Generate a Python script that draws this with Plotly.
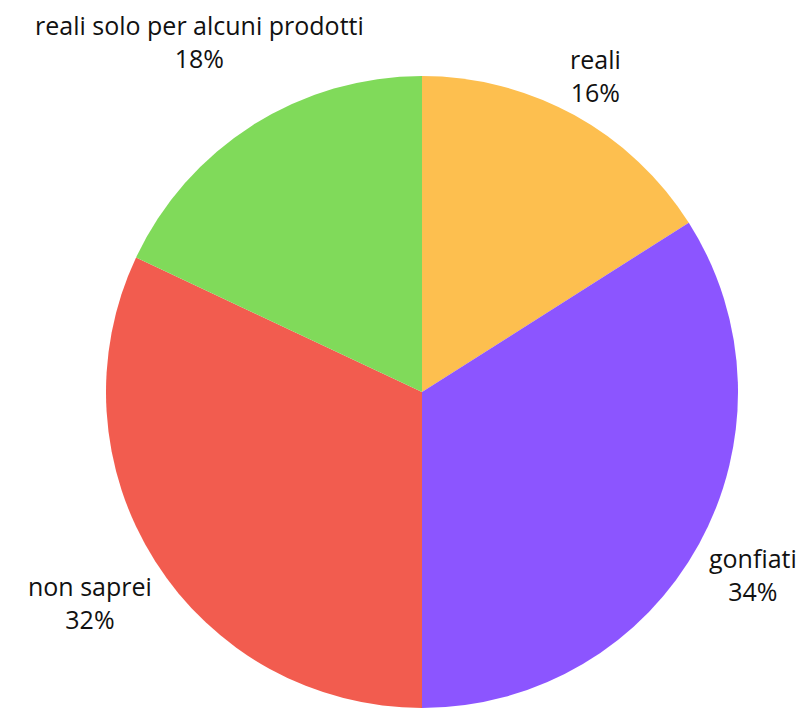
import math
import plotly.graph_objects as go

labels = ["reali", "gonfiati", "non saprei", "reali solo per alcuni prodotti"]
values = [16, 34, 32, 18]
colors = ["#FDBF4F", "#8C55FF", "#F25C4F", "#80DA5A"]

W, H = 800, 708
CX, CY, R = 422, 392, 316
label_dist = [361, 378, 393, 415]  # pixel distance of label centre from pie centre

fig = go.Figure(go.Pie(
    labels=labels,
    values=values,
    sort=False,
    direction="clockwise",
    rotation=0,
    marker=dict(colors=colors, line=dict(width=0)),
    textinfo="none",
    showlegend=False,
    domain=dict(x=[(CX - R) / W, (CX + R) / W],
                y=[max(0, (H - CY - R) / H), (H - CY + R) / H]),
    hoverinfo="label+percent",
))

total = sum(values)
cum = 0
annotations = []
for lab, v, d in zip(labels, values, label_dist):
    mid = (cum + v / 2) / total * 2 * math.pi
    cum += v
    px = CX + d * math.sin(mid)
    py = CY - d * math.cos(mid)
    pct = round(v / total * 100)
    annotations.append(dict(
        x=px / W, y=1 - py / H, xref="paper", yref="paper",
        text=f"{lab}<br>{pct}%", showarrow=False,
        xanchor="center", yanchor="middle", align="center",
        font=dict(family="Open Sans", size=25, color="#111111"),
    ))

fig.update_layout(
    width=W, height=H,
    margin=dict(l=0, r=0, t=0, b=0),
    paper_bgcolor="white",
    plot_bgcolor="white",
    annotations=annotations,
)
fig.write_html("out.html")
